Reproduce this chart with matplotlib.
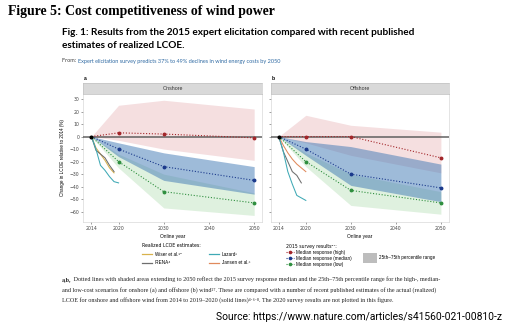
import matplotlib
matplotlib.use('Agg')
import matplotlib.pyplot as plt
from matplotlib.lines import Line2D
from matplotlib.patches import Patch

W, H = 508, 328

# survey years and 2015 survey results (% change in LCOE vs 2014)
band_years = [2014, 2020, 2030, 2050]

on_high = [0, 3, 2, -1]
on_high_lo = [0, -3, -10, -19]
on_high_hi = [0, 25, 29, 22]
on_med = [0, -10, -24, -35]
on_med_lo = [0, -16, -35, -46]
on_med_hi = [0, -5, -13, -24]
on_low = [0, -20, -44, -53]
on_low_lo = [0, -25, -57, -63]
on_low_hi = [0, -14, -30, -45]

off_high = [0, 0, 0, -17]
off_high_lo = [0, -5, -15, -29]
off_high_hi = [0, 17, 9, 3.5]
off_med = [0, -10, -30, -41]
off_med_lo = [0, -15, -39, -52]
off_med_hi = [0, -4, -8, -22]
off_low = [0, -20, -43, -53]
off_low_lo = [0, -24, -55, -62]
off_low_hi = [0, -13, -30, -44]

# realized LCOE estimates
real_years = [2014, 2015, 2016, 2017, 2018, 2019, 2020]
on_wiser = [0, -9, -14, -19, -25, -29]
on_irena = [0, -11, -14, -17, -23, -28]
on_lazard = [0, -10, -23, -27, -32, -36, -37]
off_irena = [0, -12, -20, -28, -31, -37]
off_lazard = [0, -12, -28, -38, -47, -49, -51]
off_jansen = [0, -7, -13, -18, -22, -25, -28]

x_ticks = [2014, 2020, 2030, 2040, 2050]
y_ticks = [30, 20, 10, 0, -10, -20, -30, -40, -50, -60]

c_wiser, c_irena, c_lazard, c_jansen = '#d8b24c', '#6e6e6e', '#3fa9b5', '#e08a5c'
c_high, c_med, c_low = '#a3262a', '#1b3a8c', '#2f8f3f'
f_high, f_med, f_low = '#e9b8bc', '#3f78b5', '#b9e0b9'


def rect(x0, y0, x1, y1):
    return [x0 / W, 1 - y1 / H, (x1 - x0) / W, (y1 - y0) / H]


fig = plt.figure(figsize=(W / 100, H / 100), dpi=100)
bg = fig.add_axes([0, 0, 1, 1])
bg.set_xlim(0, W)
bg.set_ylim(H, 0)
bg.axis('off')

sans = ['Liberation Sans', 'DejaVu Sans']
serif = ['Liberation Serif', 'DejaVu Serif']


def panel(x0, x1, name, letter, bands, lines, show_y):
    ax = fig.add_axes(rect(x0, 94, x1, 221.7))
    st = fig.add_axes(rect(x0, 82.7, x1, 94))
    st.set_facecolor('#d9d9d9')
    st.set_xticks([]); st.set_yticks([])
    for s in st.spines.values():
        s.set_color('#bdbdbd'); s.set_linewidth(0.4)
    st.text(0.5, 0.5, name, ha='center', va='center', fontsize=3.8,
            family=sans, color='#333333', transform=st.transAxes)
    bg.text(x0 + 0.5, 78.5, letter, fontsize=3.6, weight='bold', family=sans,
            va='center', ha='left')

    (hi_m, hi_lo, hi_hi), (md_m, md_lo, md_hi), (lw_m, lw_lo, lw_hi) = bands
    ax.fill_between(band_years, hi_lo, hi_hi, color=f_high, alpha=0.45, lw=0)
    ax.fill_between(band_years, lw_lo, lw_hi, color=f_low, alpha=0.45, lw=0)
    ax.fill_between(band_years, md_lo, md_hi, color=f_med, alpha=0.5, lw=0)
    ax.axhline(0, color='#555555', lw=1.2, alpha=0.85, zorder=3)
    for vals, c in ((hi_m, c_high), (md_m, c_med), (lw_m, c_low)):
        ax.plot(band_years, vals, color=c, ls=(0, (1, 1.6)), lw=0.8,
                marker='o', ms=1.8, markevery=[1, 2, 3], zorder=4)
    for vals, c in lines:
        ax.plot(real_years[:len(vals)], vals, color=c, lw=0.75, zorder=5)
    ax.plot([2014], [0], 'o', color='black', ms=1.9, zorder=6)

    ax.set_xlim(2012.2, 2051.8)
    ax.set_ylim(-68, 34)
    ax.set_xticks(x_ticks)
    ax.set_yticks(y_ticks)
    ax.tick_params(length=1.5, width=0.4, color='#555555', pad=1.5,
                   labelsize=3.3, labelcolor='#444444')
    if not show_y:
        ax.set_yticklabels([])
    else:
        ax.set_ylabel('Change in LCOE relative to 2014 (%)', fontsize=3.3,
                      family=sans, labelpad=3.5)
    ax.set_xlabel('Online year', fontsize=3.5, family=sans, labelpad=2)
    for s in ax.spines.values():
        s.set_color('#d0d0d0'); s.set_linewidth(0.4)
    return ax


panel(83.3, 262.3, 'Onshore', 'a',
      [(on_high, on_high_lo, on_high_hi), (on_med, on_med_lo, on_med_hi),
       (on_low, on_low_lo, on_low_hi)],
      [(on_wiser, c_wiser), (on_irena, c_irena), (on_lazard, c_lazard)], True)
panel(270.7, 449, 'Offshore', 'b',
      [(off_high, off_high_lo, off_high_hi), (off_med, off_med_lo, off_med_hi),
       (off_low, off_low_lo, off_low_hi)],
      [(off_irena, c_irena), (off_jansen, c_jansen), (off_lazard, c_lazard)], False)

# headings
bg.text(8, 12, 'Figure 5: Cost competitiveness of wind power', fontsize=9.9,
        weight='bold', family=serif, va='center')
bg.text(62, 32.5, 'Fig. 1: Results from the 2015 expert elicitation compared with recent published',
        fontsize=7.2, weight='bold', family=['Lato', 'DejaVu Sans'], va='center')
bg.text(62, 46, 'estimates of realized LCOE.', fontsize=7.2, weight='bold',
        family=['Lato', 'DejaVu Sans'], va='center')
t = bg.text(62, 61, 'From: ', fontsize=4.0, family=['Lato', 'DejaVu Sans'],
            va='center', color='#444444')
bg.annotate('Expert elicitation survey predicts 37% to 49% declines in wind energy costs by 2050',
            xy=(1, 0), xycoords=t, va='bottom', fontsize=4.0,
            family=['Lato', 'DejaVu Sans'], color='#2f6aa3')

# legends
leg_kw = dict(frameon=False, borderpad=0, title_fontsize=3.3,
              alignment='left', handletextpad=0.6, bbox_transform=bg.transData,
              loc='upper left', prop={'family': sans, 'size': 3.3})
h_real = [Line2D([], [], color=c, lw=0.9) for c in (c_wiser, c_irena, c_lazard, c_jansen)]
l_real = ['Wiser et al.¹⁰', 'IRENA⁴', 'Lazard⁶', 'Jansen et al.⁸']
leg1 = bg.legend(h_real, l_real, title='Realized LCOE estimates:', ncol=2,
                 bbox_to_anchor=(139.5, 241), handlelength=2.2,
                 columnspacing=6.0, labelspacing=0.75, **leg_kw)
bg.add_artist(leg1)

h_srv = [Line2D([], [], color=c, ls=(0, (1, 1.2)), lw=0.8, marker='o', ms=1.6)
         for c in (c_high, c_med, c_low)]
l_srv = ['Median response (high)', 'Median response (median)', 'Median response (low)']
leg2 = bg.legend(h_srv, l_srv, title='2015 survey results²⁷:',
                 bbox_to_anchor=(284, 241.5), handlelength=1.6,
                 labelspacing=0.2, **leg_kw)
bg.add_artist(leg2)

leg3 = bg.legend([Patch(facecolor='#bdbdbd', edgecolor='none')],
                 ['25th–75th percentile range'], bbox_to_anchor=(360.7, 250.8),
                 handlelength=3.0, handleheight=3.0, **leg_kw)

# caption
cap_kw = dict(fontsize=4.4, family=serif, va='center', color='#222222')
t = bg.text(62, 280, 'a,b,', weight='bold', **cap_kw)
bg.annotate(' Dotted lines with shaded areas extending to 2050 reflect the 2015 survey response median '
            'and the 25th–75th percentile range for the high-, median-',
            xy=(1, 0), xycoords=t, va='bottom', fontsize=4.4, family=serif, color='#222222')
bg.text(62, 290, 'and low-cost scenarios for onshore (a) and offshore (b) wind²⁷. These are compared '
        'with a number of recent published estimates of the actual (realized)', **cap_kw)
bg.text(62, 300, 'LCOE for onshore and offshore wind from 2014 to 2019–2020 (solid lines)⁴·⁶·⁸. '
        'The 2020 survey results are not plotted in this figure.', **cap_kw)

bg.text(502, 317, 'Source: https://www.nature.com/articles/s41560-021-00810-z',
        fontsize=7.4, family=['Roboto', 'DejaVu Sans'], ha='right', va='center')

fig.savefig('out.png', dpi=100)
